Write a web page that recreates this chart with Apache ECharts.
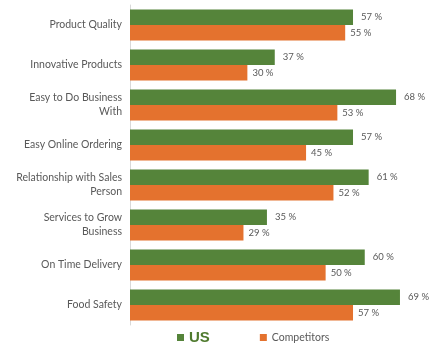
<!DOCTYPE html>
<html><head><meta charset="utf-8">
<script src="https://cdn.jsdelivr.net/npm/echarts@6/dist/echarts.min.js"></script>
<style>html,body{margin:0;padding:0;background:#fff}#c{width:445px;height:354px}</style>
</head><body><div id="c"></div>
<script>
const categories = ["Product Quality","Innovative Products","Easy to Do Business\nWith","Easy Online Ordering","Relationship with Sales\nPerson","Services to Grow\nBusiness","On Time Delivery","Food Safety"];
const usValues = [57,37,68,57,61,35,60,69];
const competitorValues = [55,30,53,45,52,29,50,57];
const seriesNames = ["US","Competitors"];

const chart = echarts.init(document.getElementById('c'), null, {renderer:'canvas'});
const labelStyle = {show:true, position:'right', distance:8, formatter: p => p.value + ' %', color:'#595959', fontSize:9.5, fontFamily:'Lato'};
chart.setOption({
  animation:false,
  backgroundColor:'#fff',
  grid:{left:130, right:2, top:5, bottom:29},
  xAxis:{type:'value', min:0, max:80, show:false},
  yAxis:{type:'category', data:categories, inverse:true,
    axisLine:{show:true, lineStyle:{color:'#d9d9d9', width:1}},
    axisTick:{show:false},
    axisLabel:{color:'#595959', fontSize:10.5, fontFamily:'Lato', align:'right', margin:8, lineHeight:14}},
  legend:{bottom:4, left:172, itemWidth:7, itemHeight:7, itemGap:50, icon:'rect',
    data:seriesNames,
    formatter: n => n === 'US' ? '{us|US}' : n,
    textStyle:{color:'#595959', fontSize:10.5, fontFamily:'Lato',
      rich:{us:{color:'#4f7a2e', fontSize:15, fontWeight:'bold', fontFamily:'Liberation Sans Narrow, Liberation Sans'}}}},
  series:[
    {name:seriesNames[0], type:'bar', data:usValues, barGap:'0%', barCategoryGap:'22%', itemStyle:{color:'#55843a'}, label:labelStyle},
    {name:seriesNames[1], type:'bar', data:competitorValues, barGap:'0%', barCategoryGap:'22%', itemStyle:{color:'#e4722e'}, label:Object.assign({}, labelStyle, {distance:5})}
  ]
});
</script></body></html>
